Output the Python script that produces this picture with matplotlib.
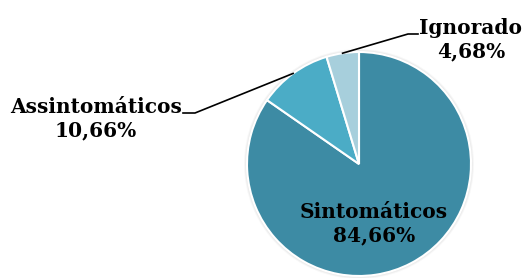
import matplotlib.pyplot as plt
import numpy as np

labels = ["Sintomáticos", "Assintomáticos", "Ignorado"]
values = [84.66, 10.66, 4.68]
pct_text = ["84,66%", "10,66%", "4,68%"]
colors = ["#3D8BA4", "#4BACC6", "#A7CFDC"]

fig = plt.figure(figsize=(5.25, 2.78), dpi=100)
ax = fig.add_axes([0, 0, 1, 1])

cx, cy, r = 359, 114, 112

# soft shadow around the pie
for k, a in [(3.0, 0.06), (2.0, 0.08), (1.0, 0.12)]:
    ax.add_patch(plt.Circle((cx, cy), r + k, color="#808080", alpha=a, lw=0, zorder=0))

wedges, _ = ax.pie(values, colors=colors, startangle=90, counterclock=False,
                   center=(cx, cy), radius=r,
                   wedgeprops=dict(edgecolor="white", linewidth=1.5))
ax.set_xlim(0, 525)
ax.set_ylim(0, 278)
ax.set_aspect("equal")
ax.axis("off")

font = dict(family="DejaVu Serif", weight="bold", fontsize=14.5, color="black")

# label inside big slice
ax.text(374, 278 - 224, labels[0] + "\n" + pct_text[0], ha="center", va="center",
        linespacing=1.2, **font)

# outer labels with leader lines
outer = {1: ((195, 165), (183, 165), (96, 278 - 119)),
         2: ((408, 244), (418, 244), (471, 278 - 40))}
for i, (elbow, end, tpos) in outer.items():
    w = wedges[i]
    ang = np.deg2rad((w.theta1 + w.theta2) / 2)
    px, py = cx + r * np.cos(ang), cy + r * np.sin(ang)
    ax.plot([px, elbow[0], end[0]], [py, elbow[1], end[1]], color="black", lw=1.2)
    ax.text(tpos[0], tpos[1], labels[i] + "\n" + pct_text[i], ha="center", va="center",
            linespacing=1.2, **font)

fig.savefig("out.png", dpi=100)
